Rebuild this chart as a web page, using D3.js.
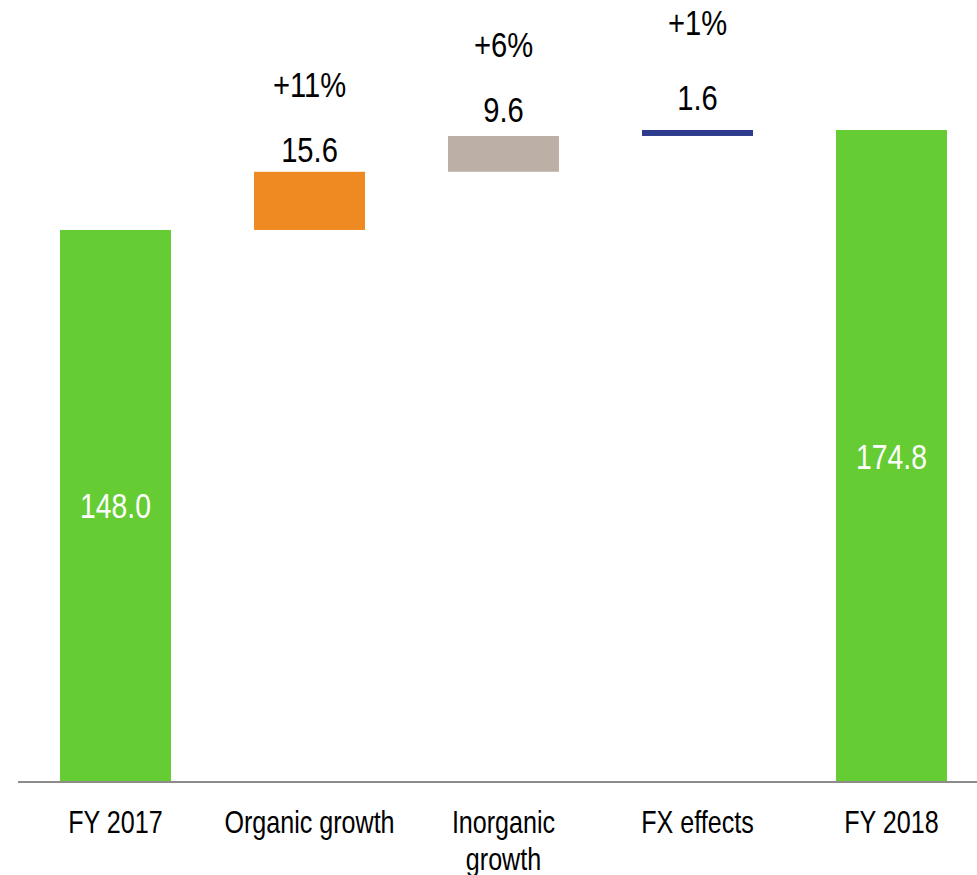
<!DOCTYPE html>
<html>
<head>
<meta charset="utf-8">
<script src="https://cdn.jsdelivr.net/npm/d3@7"></script>
<style>
  body { margin: 0; background: #fff; }
  text { font-family: "Liberation Sans", Arial, sans-serif; }
</style>
</head>
<body>
<script>
// chart data
var categories = ["FY 2017", "Organic growth", "Inorganic\ngrowth", "FX effects", "FY 2018"];
var values = [148.0, 15.6, 9.6, 1.6, 174.8];
var kinds = ["total", "delta", "delta", "delta", "total"];
var pctLabels = [null, "+11%", "+6%", "+1%", null];
var colors = ["#66cc33", "#ee8a22", "#bcb0a6", "#2e3a8c", "#66cc33"];

var width = 977, height = 875;
var baseY = 782;
var squeeze = 0.81; // the source font is narrow

// build waterfall steps
var run = 0;
var steps = categories.map(function(c, i) {
  var lo, hi;
  if (kinds[i] == "total") { lo = 0; hi = values[i]; run = values[i]; }
  else { lo = run; hi = run + values[i]; run = hi; }
  return {cat: c, value: values[i], lo: lo, hi: hi, kind: kinds[i], pct: pctLabels[i], color: colors[i]};
});

var svg = d3.select("body").append("svg")
  .attr("width", width)
  .attr("height", height);

var x = d3.scaleBand()
  .domain(categories)
  .range([18.5, 988.5])
  .paddingInner(0.428)
  .paddingOuter(0.214);

var y = d3.scaleLinear()
  .domain([0, 174.8])
  .range([baseY, 130]);

svg.selectAll("rect.bar")
  .data(steps)
  .join("rect")
  .attr("class", "bar")
  .attr("x", d => x(d.cat))
  .attr("width", x.bandwidth())
  .attr("y", d => y(d.hi))
  .attr("height", d => y(d.lo) - y(d.hi))
  .attr("fill", d => d.color);

// baseline
svg.append("line")
  .attr("x1", 18).attr("x2", width)
  .attr("y1", baseY).attr("y2", baseY)
  .attr("stroke", "#8c8c8c")
  .attr("stroke-width", 2);

// x axis labels
var xAxis = svg.append("g")
  .attr("transform", `translate(0,${baseY})`)
  .call(d3.axisBottom(x).tickSize(0).tickFormat(""))
  .call(g => g.select(".domain").remove());

xAxis.selectAll(".tick").each(function(d) {
  var t = d3.select(this).append("text")
    .attr("text-anchor", "middle")
    .attr("fill", "#000")
    .attr("font-size", 31)
    .attr("transform", `scale(${squeeze},1)`);
  d.split("\n").forEach(function(line, i) {
    t.append("tspan").attr("x", 0).attr("y", 51 + i * 37).text(line);
  });
});

// value labels inside totals
svg.selectAll("text.inner")
  .data(steps.filter(d => d.kind == "total"))
  .join("text")
  .attr("class", "inner")
  .attr("text-anchor", "middle")
  .attr("font-size", 35)
  .attr("fill", "#fff")
  .attr("transform", d => `translate(${x(d.cat) + x.bandwidth() / 2},${(y(d.hi) + y(d.lo)) / 2 + 12.5}) scale(${squeeze},1)`)
  .text(d => d.value.toFixed(1));

// labels above deltas - thin bars get pushed a bit higher
var deltas = steps.filter(d => d.kind == "delta");
deltas.forEach(function(d) {
  var h = y(d.lo) - y(d.hi);
  d.labelY = y(d.hi) - (21.5 - 0.2 * h);
  d.pctY = d.labelY - 65 - Math.max(0, 20 - h) * 0.7;
});

svg.selectAll("text.delta")
  .data(deltas)
  .join("text")
  .attr("class", "delta")
  .attr("text-anchor", "middle")
  .attr("font-size", 36)
  .attr("fill", "#000")
  .attr("transform", d => `translate(${x(d.cat) + x.bandwidth() / 2},${d.labelY}) scale(${squeeze},1)`)
  .text(d => d.value.toFixed(1));

svg.selectAll("text.pct")
  .data(deltas)
  .join("text")
  .attr("class", "pct")
  .attr("text-anchor", "middle")
  .attr("font-size", 36)
  .attr("fill", "#000")
  .attr("transform", d => `translate(${x(d.cat) + x.bandwidth() / 2},${d.pctY}) scale(${squeeze},1)`)
  .text(d => d.pct);
</script>
</body>
</html>
